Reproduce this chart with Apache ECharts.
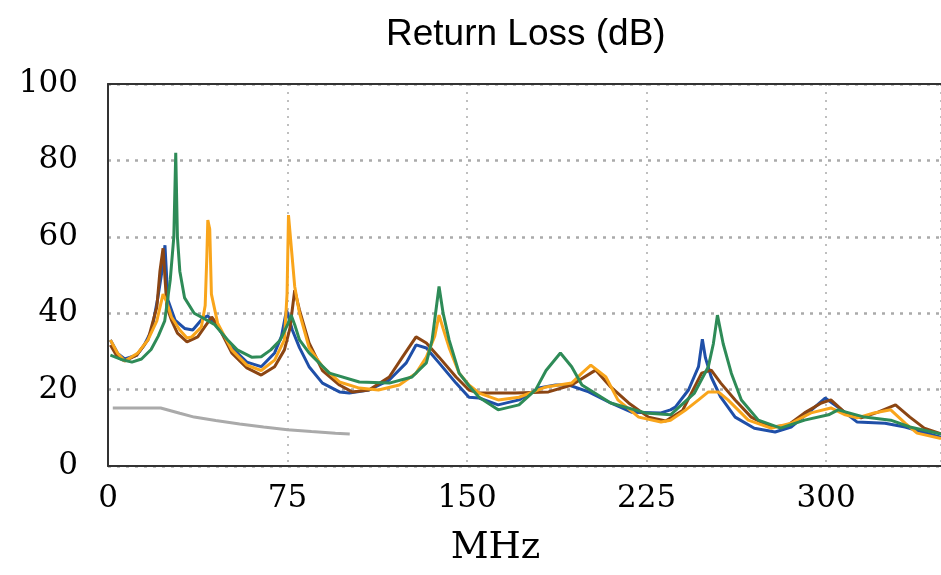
<!DOCTYPE html>
<html>
<head>
<meta charset="utf-8">
<script src="https://cdn.jsdelivr.net/npm/echarts@6/dist/echarts.min.js"></script>
<style>
  html, body { margin: 0; padding: 0; background: #fff; }
  #chart { width: 941px; height: 575px; }
</style>
</head>
<body>
<div id="chart"></div>
<script>
// [MHz, dB]
const green = [
  [1, 29], [6, 27.8], [10, 27.2], [14, 28], [18, 30.5], [21, 34], [23.7, 38], [26, 48.7],
  [27.5, 60], [28.3, 82], [29, 60], [30, 51], [32, 44], [36, 40], [40.4, 38.5], [44.6, 37],
  [50, 33], [54, 30.4], [60, 28.5], [64, 28.6], [68, 30.4], [72, 33], [75, 37], [76.5, 39.5],
  [78, 37], [80, 33], [84, 29.6], [92.5, 24.3], [105, 22], [117.5, 21.7], [127, 23.3],
  [133, 27], [135.4, 33], [138.3, 47], [140, 40], [142.5, 33], [146.7, 24.3], [150.8, 21],
  [155, 18], [163, 14.7], [171.7, 16], [178.7, 20], [183, 25], [189, 29.6], [193.7, 26],
  [198, 21.2], [210, 16.5], [224.5, 13.9], [235, 13.4], [245, 19.1], [250.8, 26], [252.9, 32],
  [254.6, 39.5], [257, 32], [260.4, 24.3], [264.6, 17.3], [271.7, 12], [281, 9.9], [291, 12],
  [301, 13.4], [305, 14.7], [316, 12.8], [327, 12], [335, 10.2], [348, 8.4]
]
const orange = [
  [1, 33], [4, 29.5], [7, 27.5], [12.5, 29.6], [16.7, 33], [20.4, 38], [23, 45], [24.5, 43],
  [26.5, 39], [30, 35.6], [33, 33.5], [35, 33.8], [39, 36.4], [40.6, 42], [41.3, 55],
  [41.7, 64.4], [42.5, 62], [43.2, 45], [45.8, 37.4], [51.7, 30.4], [58, 26.4], [64, 25],
  [69.6, 27.7], [73.7, 33], [74.8, 45], [75.4, 65.7], [76.2, 60], [78, 47], [80, 40], [84, 31],
  [89.6, 26], [96.7, 22], [105, 20.4], [113, 19.9], [121.7, 21.2], [128.7, 24.3], [133, 28.5],
  [136.5, 34], [138.3, 39.5], [140, 36], [142.5, 31], [146.7, 24.3], [150.8, 21.2], [155, 19.1],
  [163, 17.3], [171.7, 18], [183, 20.7], [193.7, 21.7], [198, 24.3], [201.7, 26.4], [208, 23.3],
  [213, 17.3], [221.7, 12.8], [231, 11.5], [235, 12], [241, 14.5], [246.7, 17.3], [250.8, 19.4],
  [255, 19.4], [259, 17.3], [267.5, 12], [277, 9.9], [285.4, 11.2], [293.7, 13.9], [302, 15.2],
  [308, 13.4], [313, 12.6], [320, 13.9], [327, 14.7], [333, 11.2], [338, 8.6], [348, 7.2]
]
const blue = [
  [1, 33], [4, 29.5], [7, 28], [12, 29], [15, 31.5], [18.3, 35.6], [20.8, 44], [22.8, 52],
  [23.8, 57.8], [25, 43.5], [28, 38.2], [32, 36], [35.4, 35.6], [39.6, 38.7], [41.7, 39.3],
  [45.8, 36.4], [51.7, 31], [58, 27.2], [64, 26], [69.6, 29.6], [72.5, 34], [74.6, 40.8],
  [77, 35.6], [80, 31], [84, 26], [89.6, 21.7], [96.7, 19.4], [100.8, 19.1], [109, 19.9],
  [117.5, 22.5], [124.6, 27], [128.7, 31.7], [133, 30.9], [138.3, 27], [145.4, 21.7], [150.8, 18],
  [155, 17.8], [163, 16], [171.7, 17.3], [180, 20.4], [187, 21.2], [192.5, 21.2], [200.8, 19.4],
  [210, 16.5], [218.7, 14.1], [231, 13.9], [235, 14.7], [237, 15.4], [242.5, 19.9], [246.7, 26],
  [248.3, 33.2], [249.6, 28.3], [252, 23.3], [256, 18], [262, 12.8], [270, 9.9], [278.7, 8.9],
  [285.4, 10.2], [292.5, 13.9], [299.6, 17.8], [305, 15.4], [313, 11.5], [324.6, 11.2],
  [333, 10.2], [348, 7.5]
]
const brown = [
  [1, 31.7], [4, 28.5], [7, 27.5], [12, 29], [16.7, 33], [20.4, 41.6], [21.7, 51], [23, 57],
  [24.6, 41.6], [26.5, 38.2], [29, 34.8], [33, 32.5], [37.5, 33.8], [40.4, 36.4], [43.3, 39],
  [45.8, 36.9], [51.7, 29.6], [58, 25.7], [64, 23.8], [69.6, 26], [73.7, 30.4], [76, 36],
  [78, 46], [80, 40.8], [84, 32.2], [89.6, 25], [96.7, 21.2], [102, 19.4], [109, 19.9],
  [117.5, 23.3], [123, 28.5], [128.7, 33.8], [133, 32.2], [138.3, 28.5], [145.4, 23.3],
  [150.8, 19.9], [155, 19.1], [170, 19.1], [184, 19.4], [193.7, 21.2], [203.7, 25.1], [210, 20.7],
  [217.5, 16.5], [225.8, 12.8], [233, 11.8], [240, 14.5], [248, 24.3], [252, 25.1], [256, 21.7],
  [262, 17.3], [268.7, 12.8], [277, 10.2], [284, 10.7], [291, 13.9], [298, 16.5], [302, 17.3],
  [308, 13.9], [314.6, 12.6], [321.7, 14.1], [329, 16], [335, 12.8], [341, 9.9], [348, 8.4]
]
const gray = [
  [2, 15.2], [22, 15.2], [30, 13.8], [36, 12.8], [45, 11.9], [55, 11], [65, 10.2], [75, 9.5],
  [85, 9], [95, 8.6], [101, 8.4]
]

const chart = echarts.init(document.getElementById('chart'))

function line(name, data, color) {
  return {
    name: name,
    type: 'line',
    data: data,
    showSymbol: false,
    symbol: 'none',
    lineStyle: { width: 3, color: color },
    itemStyle: { color: color },
    z: 3
  }
}

chart.setOption({
  animation: false,
  backgroundColor: '#fff',
  title: {
    text: 'Return Loss (dB)',
    left: 381,
    top: 11,
    textStyle: { fontFamily: 'Liberation Sans', fontSize: 37, fontWeight: 'normal', color: '#000' }
  },
  grid: {
    left: 108,
    right: -3,
    top: 84,
    bottom: 109
  },
  xAxis: [
    {
      type: 'value',
      min: 0,
      max: 348,
      interval: 75,
      name: 'MHz',
      nameLocation: 'middle',
      nameGap: 64,
      nameTextStyle: { fontFamily: 'DejaVu Serif', fontSize: 37, color: '#000', padding: [0, 58, 0, 0] },
      axisLine: { show: true, lineStyle: { color: '#333', width: 2 } },
      axisTick: { show: false },
      axisLabel: {
        showMaxLabel: false,
        margin: 17,
        fontFamily: 'DejaVu Serif',
        fontSize: 31,
        color: '#000'
      },
      splitLine: { show: true, lineStyle: { color: '#aaa', width: 1.5, type: [2, 6] } }
    },
    { // top border
      type: 'value',
      position: 'top',
      min: 0,
      max: 348,
      axisLine: { show: true, lineStyle: { color: '#333', width: 2 } },
      axisTick: { show: false },
      axisLabel: { show: false },
      splitLine: { show: false }
    }
  ],
  yAxis: {
    type: 'value',
    min: 0,
    max: 100,
    interval: 20,
    axisLine: { show: true, lineStyle: { color: '#333', width: 2 } },
    axisTick: { show: false },
    axisLabel: {
      margin: 30,
      fontFamily: 'DejaVu Serif',
      fontSize: 31,
      color: '#000',
      padding: [0, 0, 14, 0]
    },
    splitLine: { show: true, lineStyle: { color: '#aaa', width: 2.5, type: [3, 6] } }
  },
  series: [
    line('gray', gray, '#aaaaaa'),
    line('blue', blue, '#1f4fa8'),
    line('brown', brown, '#8b4513'),
    line('orange', orange, '#f9a51b'),
    line('green', green, '#2e8b57')
  ]
})
</script>
</body>
</html>
